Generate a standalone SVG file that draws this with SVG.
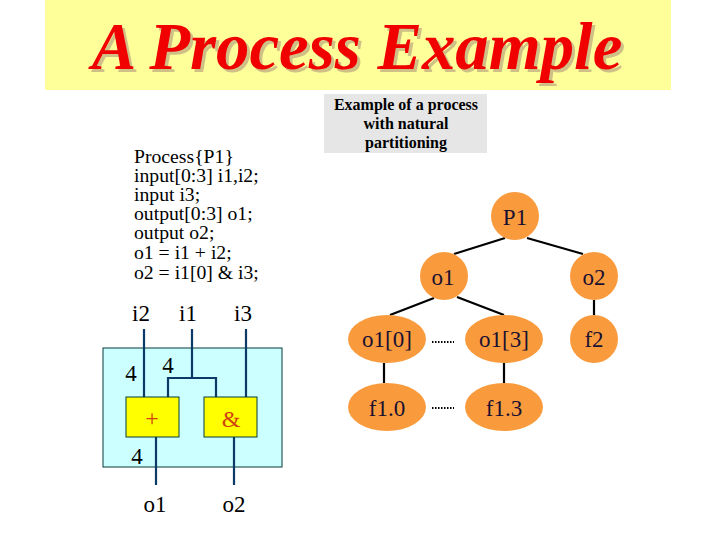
<svg xmlns="http://www.w3.org/2000/svg" width="720" height="540" viewBox="0 0 720 540">
<style>
text{font-family:"Liberation Serif","Times New Roman",serif;fill:#000;text-anchor:middle}
.code{font-size:19.7px;text-anchor:start}
.lab{font-size:23px}
.nl{font-size:23px;fill:#1a1030}
.cap{font-size:16px;font-weight:bold}
.title{font-size:66.8px;font-weight:bold;font-style:italic}
.node{fill:#f99b3d}
.w{stroke:#0b3a66;stroke-width:2.2;fill:none}
.t{stroke:#000;stroke-width:2.2;fill:none}
.d{stroke:#000;stroke-width:2;stroke-dasharray:1.5 1.5;fill:none}
.gate{fill:#ffff00;stroke:#063a3a;stroke-width:1}
</style>
<rect width="720" height="540" fill="#fff"/>
<g id="title">
<rect x="45" y="0" width="626" height="90" fill="#ffff99"/>
<text class="title" x="360" y="72" style="fill:#cfc088">A Process Example</text>
<text class="title" x="357" y="69" style="fill:#f00000">A Process Example</text>
</g>
<g id="caption">
<rect x="324" y="94" width="163" height="59" fill="#e6e6e6"/>
<text class="cap" x="406" y="110">Example of a process</text>
<text class="cap" x="406" y="129">with natural</text>
<text class="cap" x="406" y="148">partitioning</text>
</g>
<g id="code">
<text class="code" x="134" y="163">Process{P1}</text>
<text class="code" x="134" y="182">input[0:3] i1,i2;</text>
<text class="code" x="134" y="201">input i3;</text>
<text class="code" x="134" y="220">output[0:3] o1;</text>
<text class="code" x="134" y="239">output o2;</text>
<text class="code" x="134" y="259">o1 = i1 + i2;</text>
<text class="code" x="134" y="279">o2 = i1[0] &amp; i3;</text>
</g>
<g id="circuit-box"><rect x="103" y="348" width="179" height="119" fill="#ccffff" stroke="#063a3a" stroke-width="1"/></g>
<g id="connectors">
<path class="w" d="M144 329V397M192 329V378M168 397V378H216V397M246 329V397M156 437V485M234 437V485"/>
<path class="t" d="M505 238L454 254M527 238L583 254M434 298L390 315M457 297L504 315M594 300V315M384 363V383M504 363V383"/>
<path class="d" d="M432 342H454M432 408H454"/>
</g>
<g id="gate-plus"><rect class="gate" x="126" y="397" width="53" height="40"/><text x="152" y="426" style="fill:#d04010;font-size:24px">+</text></g>
<g id="gate-and"><rect class="gate" x="204" y="397" width="53" height="40"/><text x="231" y="427" style="fill:#d04010;font-size:24px">&amp;</text></g>
<g id="circuit-labels">
<text class="lab" x="141" y="321">i2</text>
<text class="lab" x="188" y="321">i1</text>
<text class="lab" x="243" y="321">i3</text>
<text class="lab" x="131" y="381">4</text>
<text class="lab" x="168" y="373">4</text>
<text class="lab" x="137" y="464">4</text>
<text class="lab" x="155" y="512">o1</text>
<text class="lab" x="234" y="512">o2</text>
</g>
<g id="P1"><circle class="node" cx="515" cy="216" r="24"/><text class="nl" x="515" y="225">P1</text></g>
<g id="o1"><circle class="node" cx="444" cy="276" r="24"/><text class="nl" x="443" y="285">o1</text></g>
<g id="o2"><circle class="node" cx="594" cy="276" r="24"/><text class="nl" x="594" y="285">o2</text></g>
<g id="o1-0"><ellipse class="node" cx="387" cy="339" rx="39" ry="24"/><text class="nl" x="387" y="347">o1[0]</text></g>
<g id="o1-3"><ellipse class="node" cx="504" cy="339" rx="39" ry="24"/><text class="nl" x="504" y="347">o1[3]</text></g>
<g id="f2"><circle class="node" cx="594" cy="339" r="24"/><text class="nl" x="594" y="347">f2</text></g>
<g id="f1-0"><ellipse class="node" cx="387" cy="407" rx="39" ry="24"/><text class="nl" x="387" y="416">f1.0</text></g>
<g id="f1-3"><ellipse class="node" cx="504" cy="407" rx="39" ry="24"/><text class="nl" x="504" y="416">f1.3</text></g>
</svg>
